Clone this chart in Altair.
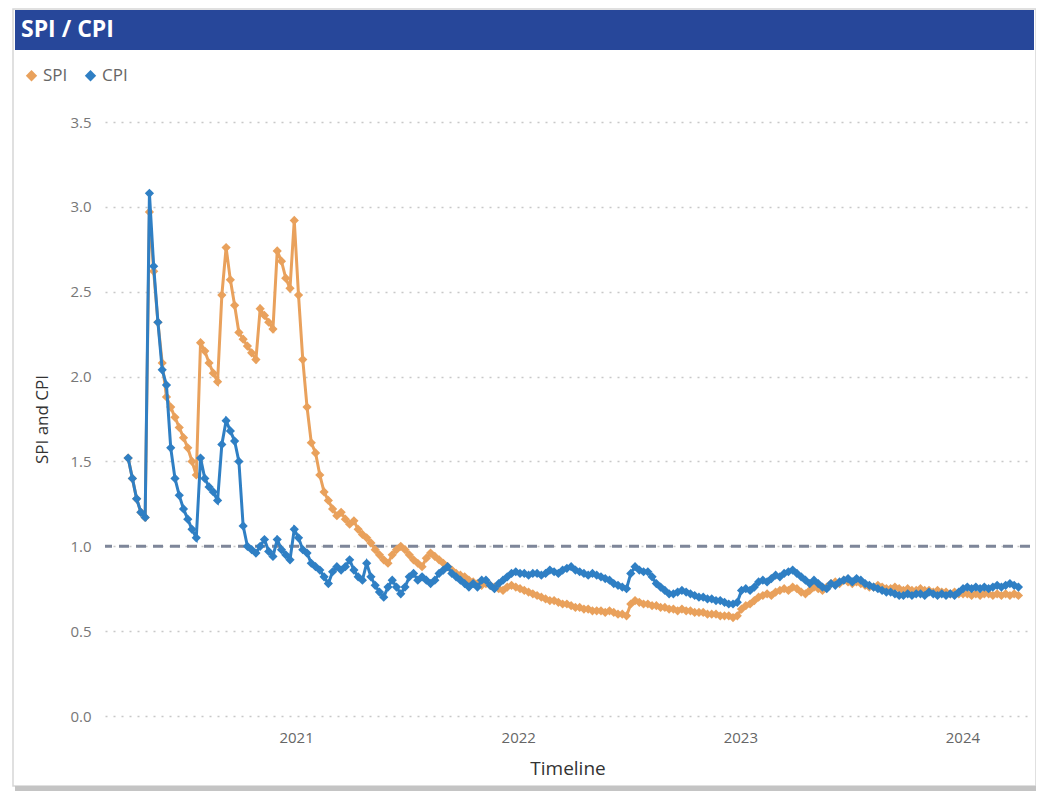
import altair as alt
import pandas as pd

# Weekly timeline (first week ~ end of March 2020, 210 weeks)
start_date = "2020-03-31"
n_weeks = 210

spi = [
    1.52, 1.40, 1.28, 1.20, 1.17, 2.97, 2.62, 2.32, 2.08, 1.88,
    1.82, 1.76, 1.70, 1.64, 1.58, 1.50, 1.42, 2.20, 2.15, 2.08,
    2.02, 1.97, 2.48, 2.76, 2.57, 2.42, 2.26, 2.22, 2.18, 2.14,
    2.10, 2.40, 2.36, 2.32, 2.28, 2.74, 2.68, 2.58, 2.52, 2.92,
    2.48, 2.10, 1.82, 1.61, 1.55, 1.42, 1.32, 1.27, 1.22, 1.18,
    1.20, 1.16, 1.13, 1.15, 1.10, 1.07, 1.05, 1.02, 0.98, 0.95,
    0.92, 0.90, 0.95, 0.98, 1.00, 0.98, 0.95, 0.92, 0.90, 0.88,
    0.93, 0.96, 0.94, 0.92, 0.90, 0.88, 0.86, 0.84, 0.83, 0.82,
    0.80, 0.79, 0.78, 0.77, 0.78, 0.77, 0.76, 0.75, 0.74, 0.76,
    0.77, 0.76, 0.75, 0.74, 0.73, 0.72, 0.71, 0.70, 0.69, 0.68,
    0.68, 0.67, 0.66, 0.66, 0.65, 0.64, 0.64, 0.63, 0.63, 0.62,
    0.62, 0.62, 0.61, 0.62, 0.61, 0.60, 0.60, 0.59, 0.66, 0.68,
    0.67, 0.66, 0.66, 0.65, 0.65, 0.64, 0.64, 0.63, 0.63, 0.62,
    0.63, 0.62, 0.62, 0.61, 0.61, 0.61, 0.60, 0.60, 0.60, 0.59,
    0.59, 0.59, 0.58, 0.59, 0.63, 0.65, 0.66, 0.68, 0.70, 0.71,
    0.72, 0.71, 0.73, 0.74, 0.75, 0.74, 0.76, 0.75, 0.73, 0.72,
    0.74, 0.76, 0.75, 0.74, 0.76, 0.78, 0.79, 0.78, 0.80, 0.79,
    0.78, 0.79, 0.78, 0.77, 0.76, 0.76, 0.77, 0.76, 0.75, 0.75,
    0.76, 0.75, 0.74, 0.75, 0.74, 0.74, 0.75, 0.74, 0.74, 0.73,
    0.74, 0.73, 0.73, 0.72, 0.73, 0.72, 0.72, 0.72, 0.71, 0.72,
    0.71, 0.72, 0.72, 0.71, 0.72, 0.71, 0.72, 0.71, 0.72, 0.71,
]

cpi = [
    1.52, 1.40, 1.28, 1.20, 1.17, 3.08, 2.65, 2.32, 2.04, 1.95,
    1.58, 1.40, 1.30, 1.22, 1.16, 1.10, 1.05, 1.52, 1.40, 1.35,
    1.32, 1.27, 1.60, 1.74, 1.68, 1.62, 1.50, 1.12, 1.00, 0.98,
    0.96, 1.00, 1.04, 0.97, 0.94, 1.04, 0.98, 0.95, 0.92, 1.10,
    1.05, 0.98, 0.96, 0.90, 0.88, 0.86, 0.82, 0.78, 0.85, 0.88,
    0.86, 0.88, 0.92, 0.86, 0.82, 0.80, 0.90, 0.82, 0.77, 0.73,
    0.70, 0.76, 0.80, 0.76, 0.72, 0.76, 0.82, 0.84, 0.80, 0.82,
    0.80, 0.78, 0.80, 0.84, 0.86, 0.88, 0.84, 0.82, 0.80, 0.78,
    0.76, 0.78, 0.76, 0.80, 0.80, 0.77, 0.75, 0.78, 0.80, 0.82,
    0.84, 0.85, 0.84, 0.84, 0.83, 0.84, 0.84, 0.83, 0.84, 0.86,
    0.85, 0.84, 0.86, 0.87, 0.88, 0.86, 0.85, 0.84, 0.83, 0.84,
    0.83, 0.82, 0.81, 0.80, 0.78, 0.77, 0.76, 0.75, 0.84, 0.88,
    0.86, 0.85, 0.85, 0.82, 0.78, 0.76, 0.74, 0.72, 0.72, 0.73,
    0.74, 0.73, 0.72, 0.71, 0.70, 0.70, 0.69, 0.69, 0.68, 0.68,
    0.67, 0.66, 0.66, 0.67, 0.74, 0.75, 0.74, 0.76, 0.79, 0.80,
    0.79, 0.81, 0.83, 0.82, 0.84, 0.85, 0.86, 0.84, 0.82, 0.80,
    0.78, 0.80, 0.78, 0.76, 0.75, 0.78, 0.77, 0.79, 0.80, 0.81,
    0.79, 0.81, 0.80, 0.78, 0.77, 0.76, 0.75, 0.74, 0.73, 0.73,
    0.72, 0.71, 0.71, 0.72, 0.71, 0.72, 0.72, 0.71, 0.73, 0.72,
    0.71, 0.72, 0.71, 0.72, 0.71, 0.73, 0.75, 0.76, 0.75, 0.76,
    0.75, 0.76, 0.75, 0.76, 0.77, 0.76, 0.77, 0.78, 0.77, 0.76,
]

series_names = ["SPI", "CPI"]
series_colors = ["#E9A15C", "#2F7FC4"]
y_ticks = [0.0, 0.5, 1.0, 1.5, 2.0, 2.5, 3.0, 3.5]
target_value = [1.0]
x_domain = ["2020-02-22", "2024-04-21"]

dates = pd.date_range(start_date, periods=n_weeks, freq="7D")
df_spi = pd.DataFrame({"date": dates, "value": spi, "series": "SPI"})
df_cpi = pd.DataFrame({"date": dates, "value": cpi, "series": "CPI"})

FONT = "Open Sans"
W, H = 925, 594

color = alt.Color(
    "series:N",
    scale=alt.Scale(domain=series_names, range=series_colors),
    legend=alt.Legend(
        title=None,
        orient="none",
        legendX=-82,
        legendY=-55,
        direction="horizontal",
        symbolType="diamond",
        symbolSize=130,
        symbolStrokeWidth=0,
        labelFontSize=17,
        labelColor="#666666",
        labelFont=FONT,
        columnPadding=14,
        labelOffset=3,
    ),
)

x_enc = alt.X(
    "date:T",
    scale=alt.Scale(domain=x_domain),
    axis=alt.Axis(
        title="Timeline",
        format="%Y",
        tickCount={"interval": "year", "step": 1},
        grid=False,
        domain=False,
        ticks=False,
        labelFontSize=15,
        labelColor="#666666",
        labelFont=FONT,
        labelPadding=14,
        titleFontSize=19,
        titleFontWeight="normal",
        titleColor="#333333",
        titleFont=FONT,
        titlePadding=14,
    ),
)

y_enc = alt.Y(
    "value:Q",
    scale=alt.Scale(domain=[0, 3.5], nice=False),
    axis=alt.Axis(
        title="SPI and CPI",
        values=y_ticks,
        format=".1f",
        grid=True,
        gridDash=[2, 6],
        gridColor="#c8c8c8",
        gridWidth=1.5,
        domain=False,
        ticks=False,
        labelFontSize=15,
        labelColor="#777777",
        labelFont=FONT,
        labelPadding=14,
        titleFontSize=17,
        titleFontWeight="normal",
        titleColor="#333333",
        titleFont=FONT,
        titlePadding=18,
    ),
)

one = pd.DataFrame({"k": [0]})

card = alt.Chart(one).mark_rect(
    fillOpacity=0, stroke="#d6d6d6", strokeWidth=1.5, clip=False
).encode(
    x=alt.value(-92), x2=alt.value(W + 6), y=alt.value(-113), y2=alt.value(H + 70)
)

shadow = alt.Chart(one).mark_rect(color="#c4c4c4", clip=False).encode(
    x=alt.value(-90), x2=alt.value(W + 6), y=alt.value(H + 70), y2=alt.value(H + 75)
)

header = alt.Chart(one).mark_rect(color="#27479A", clip=False).encode(
    x=alt.value(-90), x2=alt.value(W + 4), y=alt.value(-112), y2=alt.value(-72)
)

title_text = alt.Chart(one).mark_text(
    align="left", baseline="middle", color="white", fontSize=23,
    fontWeight="bold", font=FONT, clip=False
).encode(x=alt.value(-84), y=alt.value(-92), text=alt.value("SPI / CPI"))

grid_base = alt.Chart(df_spi).mark_point(opacity=0).encode(x=x_enc, y=y_enc)

target = alt.Chart(pd.DataFrame({"t": target_value})).mark_rule(
    color="#7E8699", strokeDash=[10, 7], strokeWidth=3
).encode(y=alt.Y("t:Q"))


def series_layer(d):
    base = alt.Chart(d).encode(
        x=alt.X("date:T"), y=alt.Y("value:Q"), color=color
    )
    line = base.mark_line(strokeWidth=3)
    pts = base.mark_point(shape="diamond", filled=True, size=85, opacity=1)
    return line + pts


chart = alt.layer(
    grid_base,
    card,
    shadow,
    header,
    title_text,
    target,
    series_layer(df_spi),
    series_layer(df_cpi),
).properties(
    width=W,
    height=H,
    autosize=alt.AutoSizeParams(type="none"),
    padding={"left": 97, "top": 114, "right": 6, "bottom": 75},
    background="white",
).configure_view(stroke=None)

chart.save("out.html", embed_options={"renderer": "svg", "actions": False})
